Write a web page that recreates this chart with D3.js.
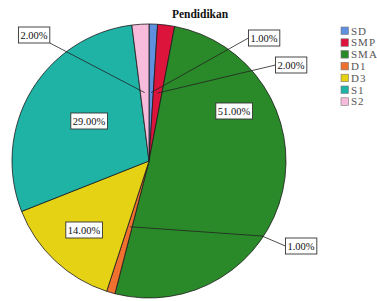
<!DOCTYPE html>
<html><head><meta charset="utf-8">
<script src="https://cdn.jsdelivr.net/npm/d3@7/dist/d3.min.js"></script>
<style>body{margin:0;background:#fff}svg{display:block}</style>
</head><body><svg id="c" width="377" height="301"></svg>
<script>
const categories = ["SD","SMP","SMA","D1","D3","S1","S2"];
const values = [1,2,51,1,14,29,2];
const labels = ["1.00%","2.00%","51.00%","1.00%","14.00%","29.00%","2.00%"];
const colors = ["#5f90e0","#dc143c","#2a8a2a","#f07030","#e6d214","#1fb3a6","#f7bcdc"];
// label layout: box center and optional elbow for leader lines
const labelLayout = [
  {x:264,y:38,lead:true},
  {x:291,y:65,lead:true},
  {x:234,y:111,lead:false},
  {x:301,y:246,lead:true,ex:262,ey:236},
  {x:84,y:230,lead:false},
  {x:89,y:121,lead:false},
  {x:34,y:35,lead:true}
];

const svg = d3.select("#c");
const cx = 149, cy = 161, R = 137;
const g = svg.append("g").attr("transform",`translate(${cx},${cy})`);
const pie = d3.pie().sort(null).value(d=>d);
const arcs = pie(values);
const arc = d3.arc().innerRadius(0).outerRadius(R);
const mid = d3.arc().innerRadius(R*0.5).outerRadius(R*0.5);

g.selectAll("path").data(arcs).join("path")
  .attr("d",arc).attr("fill",(d,i)=>colors[i])
  .attr("stroke","#1a1a1a").attr("stroke-width",0.8);

svg.append("text").attr("x",200).attr("y",18).attr("text-anchor","middle")
  .attr("font-family","Liberation Serif").attr("font-weight","bold").attr("font-size",11.5)
  .attr("fill","#111").text("Pendidikan");

arcs.forEach((d,i)=>{
  const L = labelLayout[i];
  const t = svg.append("text").attr("x",L.x).attr("y",L.y+3.5).attr("text-anchor","middle")
    .attr("font-family","Liberation Serif").attr("font-size",10.5).attr("fill","#111").text(labels[i]);
  const bb = t.node().getBBox();
  const bx = bb.x-2, by = L.y-8, bw = bb.width+4, bh = 16;
  if (L.lead){
    const [mx,my] = mid.centroid(d);
    const sx = cx+mx, sy = cy+my;
    let pts = [[sx,sy]];
    if (L.ex!==undefined) pts.push([L.ex,L.ey]);
    let ex, ey;
    if (L.ex!==undefined){ ex=bx; ey=L.y; } else if (sx<bx){ex=bx;ey=L.y;} else {ex=bx+bw;ey=by+bh;}
    pts.push([ex,ey]);
    svg.insert("path","text").attr("d",d3.line()(pts)).attr("fill","none")
      .attr("stroke","#222").attr("stroke-width",0.8);
  }
  svg.insert("rect","text").attr("x",bx).attr("y",by).attr("width",bw).attr("height",bh)
    .attr("fill","#fff").attr("stroke","#333").attr("stroke-width",0.9);
});
svg.selectAll("text").raise();

const lg = svg.append("g").attr("transform","translate(341,27)");
categories.forEach((c,i)=>{
  const y = i*11.8;
  lg.append("rect").attr("x",0).attr("y",y).attr("width",7.5).attr("height",7.5)
    .attr("fill",colors[i]).attr("stroke","#777").attr("stroke-width",0.6);
  lg.append("text").attr("x",10).attr("y",y+7.5).attr("font-family","Liberation Serif")
    .attr("font-size",11).attr("letter-spacing",1).attr("fill","#555").text(c);
});
</script></body></html>
